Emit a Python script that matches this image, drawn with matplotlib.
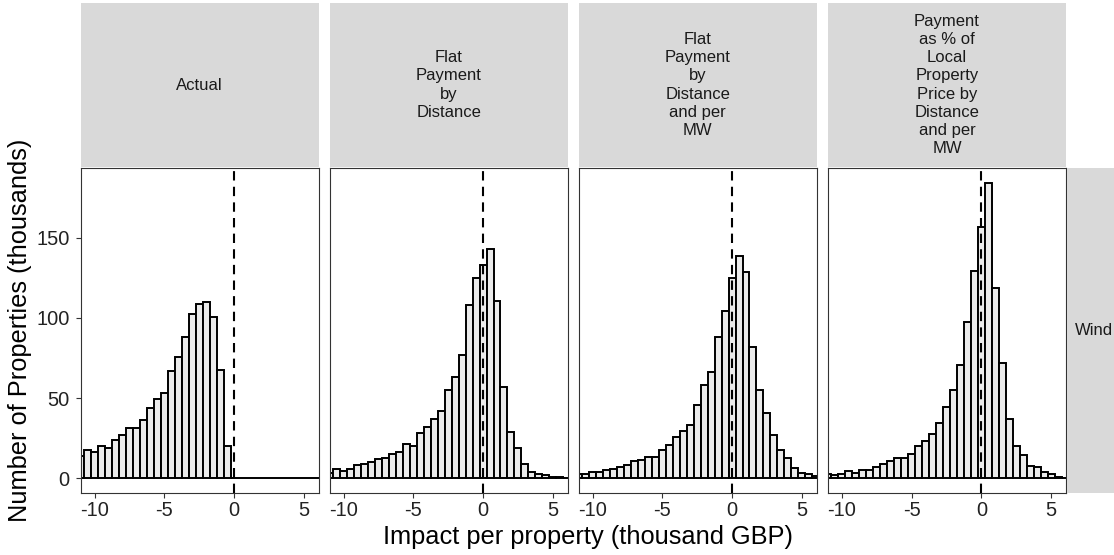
import numpy as np
import matplotlib
matplotlib.use("Agg")
import matplotlib.pyplot as plt
from matplotlib.patches import Rectangle

plt.rcParams['font.family'] = ['Liberation Sans', 'DejaVu Sans']
plt.rcParams['axes.unicode_minus'] = False

# ---------------- data ----------------
panel_titles = [
    "Actual",
    "Flat\nPayment\nby\nDistance",
    "Flat\nPayment\nby\nDistance\nand per\nMW",
    "Payment\nas % of\nLocal\nProperty\nPrice by\nDistance\nand per\nMW",
]
row_label = "Wind"

# counts (thousands) per 0.5k GBP bin, first bin starts at -11.25
actual = [13.8, 17.6, 16.3, 19.8, 18.8, 23.6, 26.7, 31.6, 31.2, 36.6, 43.6,
          49.2, 52.9, 66.9, 75.4, 87.8, 102.7, 108.7, 109.9, 100.4, 67.4, 19.8,
          0, 0, 0, 0, 0, 0, 0, 0, 0, 0, 0, 0, 0]
flat_distance = [3.5, 5.6, 4.8, 6.0, 8.1, 8.7, 10.3, 11.8, 12.8, 15.3, 16.3,
                 21.3, 20.0, 28.1, 32.0, 37.0, 41.9, 55.0, 63.2, 76.9, 107.9, 125.0,
                 133.3, 143.2, 110.3, 56.6, 28.9, 18.8, 9.1, 3.9, 2.5, 1.9, 0.8, 0.6, 0.3]
flat_distance_mw = [2.5, 2.9, 3.9, 3.9, 5.2, 6.0, 7.2, 8.1, 10.7, 11.2, 13.2,
                    13.4, 17.6, 20.5, 25.6, 29.3, 33.1, 45.5, 57.9, 66.1, 88.2, 104.3,
                    125.0, 138.4, 128.9, 81.8, 55.2, 40.5, 26.9, 17.8, 12.8, 6.2, 3.5, 2.5, 1.2]
pct_price_distance_mw = [2.5, 2.1, 2.9, 4.5, 3.5, 5.2, 5.2, 7.0, 9.1, 10.7, 12.8,
                         12.8, 14.9, 20.0, 23.1, 27.3, 34.5, 44.2, 54.8, 70.7, 97.5, 129.5,
                         156.8, 184.3, 118.8, 72.1, 37.0, 20.0, 14.5, 7.6, 7.2, 3.9, 2.5, 1.0, 0.4]
series = [actual, flat_distance, flat_distance_mw, pct_price_distance_mw]

x_ticks = [-10, -5, 0, 5]
x_ticklabels = ["-10", "-5", "0", "5"]
y_ticks = [0, 50, 100, 150]
y_ticklabels = ["0", "50", "100", "150"]
x_title = "Impact per property (thousand GBP)"
y_title = "Number of Properties (thousands)"

# ---------------- layout ----------------
bin_start = -11.25
bin_width = 0.5
W, H = 1114, 555
fig = plt.figure(figsize=(W / 100, H / 100), dpi=100)


def fx(px):
    return px / W


def fy(py):
    return 1 - py / H


panel_lefts = [80.7, 329.7, 578.7, 828.0]
panel_w = 238.0
panel_top, panel_bot = 168.0, 493.0
strip_top, strip_bot = 3.3, 166.7

ymax = max(max(s) for s in series)
border_col = "#333333"

for i, (vals, title) in enumerate(zip(series, panel_titles)):
    left = panel_lefts[i]
    ax = fig.add_axes([fx(left), fy(panel_bot), panel_w / W, (panel_bot - panel_top) / H])
    edges = bin_start + bin_width * np.arange(len(vals))
    ax.bar(edges, vals, width=bin_width, align='edge', color='#EBEBEB',
           edgecolor='black', linewidth=1.4, zorder=2)
    ax.axvline(0, color='black', linestyle=(0, (4.5, 3.0)), linewidth=1.5, zorder=3)
    ax.set_xlim(-11.0, 6.07)
    ax.set_ylim(-0.05 * ymax, 1.05 * ymax)
    ax.set_xticks(x_ticks)
    ax.set_xticklabels(x_ticklabels)
    ax.set_yticks(y_ticks)
    ax.tick_params(axis='both', length=3.4, width=0.8, color=border_col,
                   labelsize=14.4, labelcolor='#222222', pad=2.5)
    if i == 0:
        ax.set_yticklabels(y_ticklabels)
        ax.tick_params(axis='y', pad=4.5)
    else:
        ax.tick_params(axis='y', left=False, labelleft=False)
    for sp in ax.spines.values():
        sp.set_color(border_col)
        sp.set_linewidth(0.8)
    ax.set_facecolor('white')

    sax = fig.add_axes([fx(left), fy(strip_bot), panel_w / W, (strip_bot - strip_top) / H])
    sax.set_facecolor('#D9D9D9')
    sax.set_xticks([])
    sax.set_yticks([])
    for sp in sax.spines.values():
        sp.set_visible(False)
    sax.text(0.5, 0.5, title, transform=sax.transAxes, ha='center', va='center',
             fontsize=12, color='#1A1A1A', linespacing=1.27)

# right strip
fig.patches.append(Rectangle((fx(1067.3), fy(panel_bot)), 0.1, (panel_bot - panel_top) / H,
                             transform=fig.transFigure, facecolor='#D9D9D9',
                             edgecolor='none', zorder=0))
fig.text(fx(1094), fy((panel_top + panel_bot) / 2), row_label, ha='center', va='center',
         fontsize=12, color='#1A1A1A')

fig.text(fx(588), fy(537), x_title, ha='center', va='center', fontsize=18.3, color='black')
fig.text(fx(20), fy(330), y_title, ha='center', va='center', rotation=90,
         fontsize=18.3, color='black')

fig.savefig("out.png", dpi=100)
